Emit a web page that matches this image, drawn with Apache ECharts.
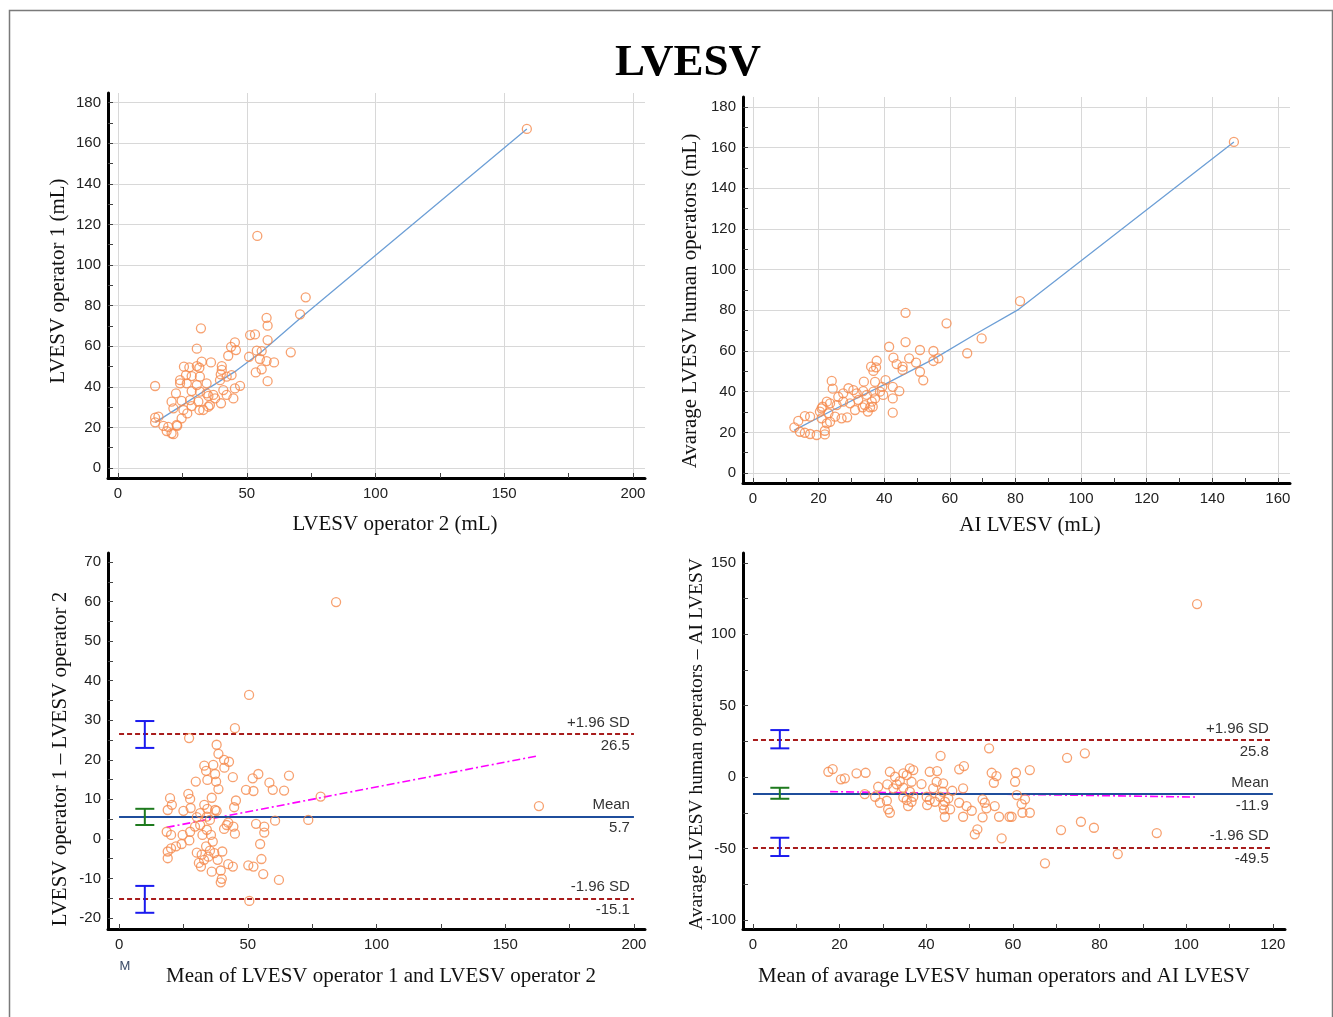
<!DOCTYPE html>
<html>
<head>
<meta charset="utf-8">
<title>LVESV</title>
<script src="https://cdn.jsdelivr.net/npm/echarts@6/dist/echarts.min.js"></script>
<style>
    html, body { margin: 0; padding: 0; background: #fff; }
    #main { width: 1333px; height: 1017px; }
</style>
</head>
<body>
<div id="main"></div>
<script>
// operator 2 (x) vs operator 1 (y)
var opPoints = [
    [72.9, 84.1], [70.7, 75.7], [57.7, 74.0], [58.1, 70.1], [32.2, 68.8], [51.3, 65.5], [53.2, 65.8], [45.4, 61.9],
    [58.1, 63.0], [43.9, 59.7], [45.8, 58.1], [30.6, 58.8], [67.1, 57.0], [53.9, 57.8], [55.8, 57.6], [42.8, 55.3],
    [50.9, 54.8], [55.1, 53.7], [57.7, 52.7], [60.6, 52.0], [36.1, 52.0], [32.5, 52.4], [25.6, 49.9], [27.7, 49.6],
    [30.6, 50.2], [31.6, 49.4], [40.3, 50.2], [40.3, 48.3], [39.9, 46.1], [55.8, 48.6], [53.5, 47.1], [58.1, 42.8],
    [44.1, 45.8], [42.2, 45.0], [26.4, 45.8], [28.6, 45.3], [31.8, 45.0], [24.1, 43.3], [24.1, 41.7], [14.4, 40.4],
    [26.7, 41.7], [30.6, 40.9], [34.4, 41.7], [39.6, 43.3], [47.4, 40.5], [45.4, 39.2], [28.6, 37.9], [22.5, 36.8],
    [31.8, 37.6], [34.4, 36.8], [37.7, 34.3], [40.9, 38.4], [42.2, 36.0], [44.8, 34.3], [37.0, 36.0], [20.8, 32.7],
    [24.7, 33.1], [28.0, 33.5], [31.2, 32.7], [35.1, 35.5], [35.7, 31.0], [40.0, 31.9], [21.5, 29.4], [25.4, 28.6],
    [28.6, 30.5], [31.6, 28.6], [33.1, 28.6], [35.1, 30.2], [26.9, 26.9], [24.7, 24.5], [22.8, 21.2], [14.4, 24.8],
    [15.7, 25.3], [14.4, 22.5], [17.6, 20.8], [19.5, 20.3], [18.9, 18.2], [20.8, 17.1], [21.5, 16.7], [23.0, 20.8],
    [54.1, 114.3], [158.8, 167.0]
];
var opFit = [[14.5, 22.5], [25, 31], [36, 40], [46, 48], [56, 57.5], [71, 74], [158.8, 167]];

// AI (x) vs average human (y)
var aiPoints = [
    [46.5, 78.8], [59.0, 73.6], [46.5, 64.4], [41.5, 62.1], [50.9, 60.5], [55.0, 60.0], [69.7, 66.2], [65.3, 58.9],
    [55.0, 55.1], [56.5, 56.4], [42.8, 56.7], [43.8, 53.6], [45.6, 52.3], [47.6, 56.4], [49.7, 54.3], [37.7, 55.2],
    [36.0, 52.3], [37.5, 52.0], [36.7, 50.2], [50.9, 49.8], [51.9, 45.6], [45.6, 50.7], [24.0, 45.3], [24.3, 41.5],
    [33.8, 44.9], [37.2, 44.8], [40.4, 45.7], [39.4, 42.4], [42.6, 42.4], [44.6, 40.3], [42.6, 36.7], [42.6, 29.7],
    [29.1, 41.7], [30.6, 40.8], [27.5, 39.2], [26.0, 37.5], [31.6, 39.2], [33.6, 40.3], [34.7, 38.4], [36.7, 40.0],
    [38.7, 40.0], [39.7, 38.4], [37.2, 36.7], [22.5, 35.1], [21.2, 32.6], [20.4, 30.2], [23.5, 34.3], [25.5, 33.4],
    [27.5, 35.1], [29.6, 34.3], [32.1, 35.9], [34.1, 33.4], [36.2, 35.1], [36.5, 32.6], [20.9, 31.8], [23.0, 29.4],
    [25.0, 27.7], [27.0, 26.9], [28.7, 27.4], [31.1, 31.0], [33.4, 32.3], [35.0, 30.2], [35.7, 32.3], [23.5, 25.2],
    [22.5, 24.4], [20.9, 26.9], [15.8, 28.0], [17.4, 27.7], [13.8, 25.6], [12.6, 22.5], [14.3, 20.3], [15.8, 19.8],
    [17.4, 19.2], [19.4, 18.7], [21.9, 19.0], [21.9, 20.8], [81.4, 84.5], [146.6, 162.8]
];
var aiFit = [[12.5, 21], [25, 31.5], [40, 43.5], [55, 56], [68, 68.5], [81, 80.5], [146.6, 162.8]];

// Bland-Altman: operator 1 vs operator 2
var opDiff = [
    [45.0, 28.0], [27.2, 25.5], [37.9, 23.8], [38.6, 21.5], [40.8, 20.0], [42.7, 19.5], [40.9, 18.0], [33.1, 18.5],
    [33.8, 17.2], [36.6, 18.7], [37.3, 16.4], [37.7, 14.5], [34.3, 14.9], [38.6, 12.6], [29.8, 14.5], [44.2, 15.6],
    [51.9, 15.3], [54.1, 16.4], [58.4, 14.2], [59.7, 12.4], [66.0, 16.0], [64.1, 12.2], [49.3, 12.4], [52.2, 12.1],
    [26.9, 11.4], [27.6, 10.1], [19.8, 10.3], [20.5, 8.6], [18.9, 7.3], [36.0, 10.4], [33.1, 8.6], [34.3, 7.6],
    [37.9, 7.1], [45.4, 9.7], [44.7, 8.0], [25.0, 7.1], [27.8, 7.8], [31.5, 6.5], [30.2, 5.5], [34.1, 5.6],
    [35.3, 4.8], [37.3, 7.3], [78.3, 10.7], [73.5, 4.8], [60.6, 4.6], [53.2, 3.8], [56.4, 3.1], [56.4, 1.6],
    [54.8, -1.3], [55.3, -5.1], [56.0, -8.9], [62.1, -10.4], [41.8, 3.5], [44.4, 3.1], [45.0, 1.3], [40.8, 2.5],
    [42.4, 4.1], [18.5, 1.8], [20.2, 1.0], [24.7, 1.0], [27.6, 1.8], [27.3, -0.4], [24.3, -1.3], [22.1, -1.9],
    [20.2, -2.4], [18.9, -3.2], [18.9, -4.9], [29.5, 3.1], [31.5, 3.5], [32.4, 1.0], [34.1, 2.3], [35.7, 1.0],
    [36.4, -0.7], [33.8, -1.9], [35.3, -3.0], [37.0, -3.6], [34.7, -4.5], [30.2, -3.5], [32.1, -4.0], [31.0, -6.1],
    [31.8, -7.0], [33.0, -5.3], [40.1, -3.2], [38.3, -5.3], [42.4, -6.4], [44.2, -7.0], [36.0, -8.3], [39.5, -8.0],
    [39.9, -10.1], [39.5, -11.0], [50.2, -6.7], [52.2, -7.0], [50.6, -15.7], [84.3, 59.9], [50.5, 36.4], [163.1, 8.3]
];
var opLimits = [26.5, 5.7, -15.1];          // +1.96 SD, mean, -1.96 SD
var opCI = [[10, 23.0, 29.8], [10, 3.5, 7.6], [10, -18.7, -11.9]];
var opTrend = [[18.5, 2.9], [162.7, 21.0]];

// Bland-Altman: average human vs AI
var aiDiff = [
    [54.5, 20.1], [43.3, 14.9], [72.5, 13.5], [76.6, 16.6], [17.4, 3.7], [18.4, 5.6], [20.3, -1.6], [21.2, -0.9],
    [23.9, 2.6], [26.0, 3.0], [31.6, 3.7], [32.8, 0.2], [33.9, -2.8], [34.7, 2.6], [35.5, 1.4], [36.2, 6.1],
    [37.0, 4.9], [36.6, -3.3], [33.2, -5.1], [31.0, -5.1], [28.9, -6.8], [32.4, -7.9], [34.7, -7.5], [36.2, -10.3],
    [37.0, -13.8], [35.5, -16.1], [34.7, -14.2], [35.8, -20.3], [36.6, -17.3], [29.3, -18.0], [30.9, -16.6], [31.2, -22.6],
    [31.6, -25.0], [25.8, -11.9], [28.2, -13.8], [38.9, -4.9], [40.8, 3.7], [42.5, 4.2], [41.6, -7.9], [42.4, -3.3],
    [43.9, -4.4], [43.8, -10.3], [46.0, -9.6], [40.1, -13.8], [40.8, -16.1], [42.0, -17.3], [43.2, -13.8], [44.3, -17.3],
    [45.1, -14.9], [45.5, -22.6], [44.1, -22.6], [44.3, -27.8], [40.2, -19.6], [43.9, -19.6], [47.6, 5.4], [48.7, 7.7],
    [48.5, -7.9], [47.6, -18.0], [49.3, -20.3], [50.5, -23.6], [48.5, -27.8], [51.2, -40.1], [51.8, -36.6], [57.4, -42.9],
    [55.1, 3.0], [56.2, 0.7], [55.6, -4.0], [53.0, -15.6], [53.5, -18.0], [53.9, -21.9], [55.8, -20.3], [53.0, -28.2],
    [56.8, -27.8], [59.2, -27.8], [59.7, -27.8], [60.7, 3.0], [60.5, -3.3], [63.9, 4.9], [60.9, -12.6], [62.8, -15.6],
    [62.0, -18.9], [62.2, -25.0], [63.9, -25.0], [67.4, -60.4], [71.1, -37.1], [75.7, -31.3], [78.7, -35.5], [102.5, 121.1],
    [84.2, -53.9], [93.2, -39.2]
];
var aiLimits = [25.8, -11.9, -49.5];
var aiCI = [[6.2, 20.1, 32.9], [6.2, -15.2, -7.5], [6.2, -55.3, -42.5]];
var aiTrend = [[17.8, -10.2], [102.5, -14.0]];

// ticks
var opXTicks = [0, 50, 100, 150, 200];
var opXMinor = [25, 75, 125, 175];
var volYTicks = [0, 20, 40, 60, 80, 100, 120, 140, 160, 180];
var volYMinor = [10, 30, 50, 70, 90, 110, 130, 150, 170];
var aiXTicks = [0, 20, 40, 60, 80, 100, 120, 140, 160];
var aiXMinor = [10, 30, 50, 70, 90, 110, 130, 150];
var opDiffTicks = [-20, -10, 0, 10, 20, 30, 40, 50, 60, 70];
var opDiffMinor = [-15, -5, 5, 15, 25, 35, 45, 55, 65];
var baXTicks = [0, 20, 40, 60, 80, 100, 120];
var baXMinor = [10, 30, 50, 70, 90, 110];
var aiDiffTicks = [-100, -50, 0, 50, 100, 150];
var aiDiffMinor = [-75, -25, 25, 75, 125];

var SANS = '"Liberation Sans", Arial, sans-serif';
var SERIF = '"Liberation Serif", "Times New Roman", serif';
var ORANGE = '#f58a4c';

function axisPair(grid, min, max, majors, minors, showGrid, isX) {
    var main = {
        type: 'value', gridIndex: grid, min: min, max: max,
        position: isX ? 'bottom' : 'left',
        axisLine: { show: true, onZero: false, lineStyle: { color: '#000', width: 3 } },
        axisTick: { show: true, inside: true, length: 5, customValues: majors.concat(minors), lineStyle: { color: '#444', width: 1 } },
        axisLabel: { customValues: majors, margin: isX ? 8 : 7, color: '#222', fontFamily: SANS, fontSize: 15 },
        splitLine: { show: false }
    };
    var lines = {
        type: 'value', gridIndex: grid, min: min, max: max,
        position: isX ? 'bottom' : 'left',
        axisLine: { show: false },
        axisTick: { show: false, customValues: majors },
        axisLabel: { show: false, customValues: majors },
        splitLine: { show: showGrid, lineStyle: { color: '#d8d8d8', width: 1 } }
    };
    return [main, lines];
}

var xAxes = [].concat(
    axisPair(0, -3.9, 204.7, opXTicks, opXMinor, true, true),
    axisPair(1, -3.05, 163.7, aiXTicks, aiXMinor, true, true),
    axisPair(2, -4.3, 204.3, opXTicks, opXMinor, false, true),
    axisPair(3, -2.3, 122.8, baXTicks, baXMinor, false, true)
);
var yAxes = [].concat(
    axisPair(0, -4.9, 184.7, volYTicks, volYMinor, true, false),
    axisPair(1, -4.9, 184.9, volYTicks, volYMinor, true, false),
    axisPair(2, -22.8, 72.3, opDiffTicks, opDiffMinor, false, false),
    axisPair(3, -106.4, 156.9, aiDiffTicks, aiDiffMinor, false, false)
);

function scatter(k, data) {
    return {
        type: 'scatter', xAxisIndex: 2 * k, yAxisIndex: 2 * k, data: data,
        symbol: 'circle', symbolSize: 9, z: 5,
        itemStyle: { color: 'rgba(255,255,255,0)', borderColor: ORANGE, borderWidth: 1.3 }
    };
}

function fitLine(k, data, color, type, width) {
    return {
        type: 'line', xAxisIndex: 2 * k, yAxisIndex: 2 * k, data: data,
        showSymbol: false, symbol: 'none', silent: true, z: 4,
        lineStyle: { color: color, width: width, type: type }
    };
}

function limitLines(k, limits, xEnd) {
    var names = ['+1.96 SD', 'Mean', '-1.96 SD'];
    var lbl = { color: '#333', fontFamily: SANS, fontSize: 15, distance: 4 };
    var items = [];
    limits.forEach(function (v, i) {
        var style = i === 1 ? { color: '#1f4e9c', width: 2, type: 'solid' } : { color: '#a81c1c', width: 2, type: [5, 3] };
        items.push([
            { coord: [0, v], lineStyle: style, label: Object.assign({ formatter: names[i], position: 'insideEndTop' }, lbl) },
            { coord: [xEnd, v] }
        ]);
        items.push([
            { coord: [0, v], lineStyle: { color: 'rgba(0,0,0,0)', width: 1 }, label: Object.assign({ formatter: v.toFixed(1), position: 'insideEndBottom' }, lbl) },
            { coord: [xEnd, v] }
        ]);
    });
    return {
        type: 'line', xAxisIndex: 2 * k, yAxisIndex: 2 * k, data: [], z: 3,
        markLine: { silent: true, symbol: ['none', 'none'], animation: false, data: items }
    };
}

function ciBars(k, ci) {
    var colors = ['#1a1aee', '#1e7a1e', '#1a1aee'];
    return {
        type: 'custom', xAxisIndex: 2 * k, yAxisIndex: 2 * k, z: 6, silent: true,
        data: ci.map(function (c, i) { return { value: c, itemStyle: { color: colors[i] } }; }),
        renderItem: function (params, api) {
            var lo = api.coord([api.value(0), api.value(1)]);
            var hi = api.coord([api.value(0), api.value(2)]);
            var style = { stroke: api.visual('color'), lineWidth: 2 };
            return {
                type: 'group', children: [
                    { type: 'line', shape: { x1: lo[0], y1: lo[1], x2: hi[0], y2: hi[1] }, style: style },
                    { type: 'line', shape: { x1: lo[0] - 9.5, y1: lo[1], x2: lo[0] + 9.5, y2: lo[1] }, style: style },
                    { type: 'line', shape: { x1: hi[0] - 9.5, y1: hi[1], x2: hi[0] + 9.5, y2: hi[1] }, style: style }
                ]
            };
        }
    };
}

function label(text, x, y, rotate, size) {
    return {
        type: 'text', x: x, y: y, rotation: rotate ? Math.PI / 2 : 0, silent: true,
        style: { text: text, font: (size || 21) + 'px ' + SERIF, fill: '#111', align: 'center', verticalAlign: 'middle' }
    };
}

var option = {
    animation: false,
    backgroundColor: '#fff',
    grid: [
        { left: 108, top: 93, width: 537, height: 385 },
        { left: 743, top: 97, width: 547, height: 386 },
        { left: 108, top: 553, width: 537, height: 376 },
        { left: 743, top: 553, width: 542, height: 376 }
    ],
    xAxis: xAxes,
    yAxis: yAxes,
    graphic: [
        { type: 'rect', silent: true, shape: { x: 9.5, y: 10.5, width: 1323, height: 1030 }, style: { fill: 'none', stroke: '#7a7a7a', lineWidth: 1.5 } },
        { type: 'text', x: 688, y: 63, silent: true, style: { text: 'LVESV', font: 'bold 45px ' + SERIF, fill: '#000', align: 'center', verticalAlign: 'middle' } },
        label('LVESV operator 2 (mL)', 395, 524),
        label('LVESV operator 1 (mL)', 58, 281, true),
        label('AI LVESV (mL)', 1030, 525),
        label('Avarage LVESV human operators (mL)', 690, 301, true),
        label('Mean of LVESV operator 1 and LVESV operator 2', 381, 976),
        label('LVESV operator 1 \u2013 LVESV operator 2', 60, 759, true),
        label('Mean of avarage LVESV human operators and AI LVESV', 1004, 976),
        label('Avarage LVESV human operators \u2013 AI LVESV', 697, 744, true, 19.5),
        { type: 'text', x: 125, y: 966, silent: true, style: { text: 'M', font: '13px ' + SANS, fill: '#3a4a66', align: 'center', verticalAlign: 'middle' } }
    ],
    series: [
        fitLine(0, opFit, '#6d9fd6', 'solid', 1.3),
        scatter(0, opPoints),
        fitLine(1, aiFit, '#6d9fd6', 'solid', 1.3),
        scatter(1, aiPoints),
        limitLines(2, opLimits, 200),
        fitLine(2, opTrend, '#ff00ff', [8, 3, 2, 3], 1.6),
        scatter(2, opDiff),
        ciBars(2, opCI),
        limitLines(3, aiLimits, 120),
        fitLine(3, aiTrend, '#ff00ff', [8, 3, 2, 3], 1.6),
        scatter(3, aiDiff),
        ciBars(3, aiCI)
    ]
};

var myChart = echarts.init(document.getElementById('main'));
myChart.setOption(option);
</script>
</body>
</html>
